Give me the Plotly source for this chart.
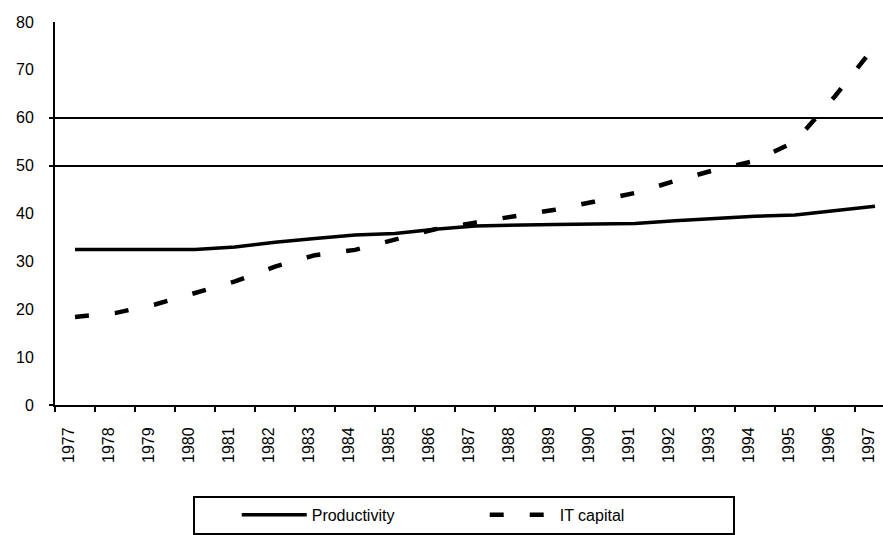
import plotly.graph_objects as go

# Annual series, 1977-1997
years = [str(y) for y in range(1977, 1998)]
productivity = [32.5, 32.5, 32.5, 32.5, 33.0, 34.0, 34.8, 35.5, 35.8, 36.7, 37.4,
                37.6, 37.7, 37.8, 37.9, 38.5, 39.0, 39.4, 39.7, 40.6, 41.5]
it_capital = [18.4, 19.2, 21.0, 23.5, 25.8, 28.9, 31.3, 32.4, 34.6, 36.7, 38.1,
              39.4, 40.8, 42.5, 44.3, 46.8, 49.1, 51.0, 55.0, 64.5, 75.0]
y_ticks = [0, 10, 20, 30, 40, 50, 60, 70, 80]
grid_levels = [50, 60]

FONT = "Arial, Liberation Sans, sans-serif"

fig = go.Figure()
fig.add_trace(go.Scatter(
    x=years, y=productivity, name="Productivity", mode="lines",
    line=dict(color="black", width=3.5),
))
# second series sits on the overlay axis that carries the horizontal rules
fig.add_trace(go.Scatter(
    x=years, y=it_capital, name="IT capital", mode="lines", yaxis="y2",
    line=dict(color="black", width=4.5, dash="14px,26px"),
))

fig.update_layout(
    width=883, height=535,
    margin=dict(l=55, r=0, t=22, b=125, pad=0),
    paper_bgcolor="white", plot_bgcolor="white",
    font=dict(family=FONT, color="black", size=15),
    showlegend=True,
    legend=dict(
        orientation="h", x=0.1667, xanchor="left", y=-0.237, yanchor="top",
        bordercolor="black", borderwidth=2, bgcolor="white",
        font=dict(size=16), itemwidth=65,
        entrywidth=168, entrywidthmode="pixels",
        title=dict(text="\u00a0" * 6, side="left"),
    ),
    xaxis=dict(
        type="category", range=[-0.5, 20.2], tickson="boundaries",
        ticks="outside", ticklen=5, tickwidth=2, tickcolor="black",
        showline=True, linewidth=2, linecolor="black",
        tickangle=-90, ticklabelstandoff=14, ticklabelshift=-6,
        showgrid=False, zeroline=False,
        tickfont=dict(size=16),
    ),
    yaxis=dict(
        range=[0, 80], tickvals=y_ticks, ticks="",
        showline=True, linewidth=2, linecolor="black",
        showgrid=False, zeroline=False, ticklabelstandoff=16,
        tickfont=dict(size=16),
    ),
    yaxis2=dict(
        overlaying="y", anchor="x", side="left", range=[0, 80],
        tickvals=[0] + grid_levels, showticklabels=False,
        ticks="outside", ticklen=5, tickwidth=2, tickcolor="black",
        showgrid=True, gridcolor="black", gridwidth=2,
        showline=False, zeroline=False,
    ),
)

fig.write_html("out.html")
